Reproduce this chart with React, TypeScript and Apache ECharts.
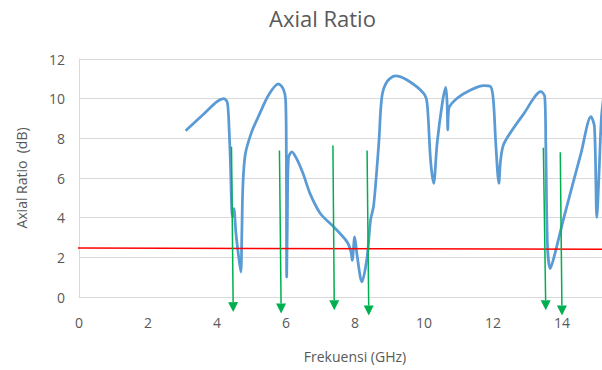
import { useEffect, useRef } from "react";
import * as echarts from "echarts";

const freqGHz = [
  3.09, 3.6, 4.0, 4.2, 4.3, 4.35, 4.39, 4.43, 4.46, 4.49, 4.55, 4.63, 4.69, 4.72, 4.75, 4.82,
  5.0, 5.2, 5.5, 5.78, 5.93, 5.99, 6.01, 6.015, 6.02, 6.04, 6.07, 6.17, 6.3, 6.5, 6.7, 7.0,
  7.38, 7.77, 7.88, 7.92, 7.99, 8.06, 8.2, 8.35, 8.45, 8.54, 8.69, 8.78, 8.93, 9.17, 9.51,
  9.99, 10.09, 10.19, 10.28, 10.38, 10.53, 10.63, 10.67, 10.69, 10.72, 10.96, 11.35, 11.74,
  11.93, 12.01, 12.08, 12.17, 12.22, 12.32, 12.9, 13.39, 13.5, 13.53, 13.58, 13.66, 13.77,
  14.06, 14.55, 14.84, 14.94, 15.01, 15.08, 15.14, 15.2,
];
const axialRatio = [
  8.38, 9.2, 9.85, 10.0, 9.8, 8.5, 6.7, 4.3, 4.05, 4.45, 3.2, 2.0, 1.26, 3.2, 5.6, 7.2,
  8.3, 9.1, 10.2, 10.75, 10.45, 9.9, 7.0, 3.0, 1.0, 4.0, 7.0, 7.32, 7.0, 6.2, 5.2, 4.2,
  3.54, 2.78, 2.3, 1.85, 3.03, 2.1, 0.76, 2.0, 3.87, 4.6, 7.75, 10.1, 10.86, 11.15, 10.94,
  10.27, 9.77, 6.9, 5.73, 7.75, 9.77, 10.57, 9.77, 8.42, 9.5, 10.02, 10.44, 10.66,
  10.61, 9.93, 7.75, 5.73, 6.9, 7.75, 9.26, 10.35, 10.1, 7.75, 2.53, 1.43, 2.02,
  4.04, 7.24, 9.09, 8.59, 4.0, 6.5, 9.0, 10.0,
];

const limitFreq = [-0.22, 15.3];
const limitAR = [2.47, 2.41];

const arrowFreqTop = [4.42, 5.81, 7.36, 8.35, 13.46, 13.95];
const arrowTopAR = [7.58, 7.39, 7.64, 7.39, 7.52, 7.3];
const arrowFreqTip = [4.47, 5.86, 7.4, 8.4, 13.53, 14.0];
const arrowTipAR = [-0.76, -0.83, -0.67, -0.93, -0.67, -0.93];

const FONT = "Open Sans";
const TEXT = "#595959";
const GRID = "#D9D9D9";

export default function App() {
  const ref = useRef<HTMLDivElement>(null);
  useEffect(() => {
    const chart = echarts.init(ref.current!, null, { renderer: "svg" });
    chart.setOption({
      animation: false,
      backgroundColor: "#ffffff",
      title: {
        text: "Axial Ratio",
        left: 264,
        top: 2,
        textStyle: { fontFamily: FONT, fontSize: 22, fontWeight: "normal", color: TEXT },
      },
      grid: { left: 79, top: 59, bottom: 73, right: 0 },
      xAxis: {
        type: "value",
        min: 0,
        max: 16,
        interval: 2,
        name: "Frekuensi (GHz)",
        nameLocation: "middle",
        nameGap: 52,
        nameTextStyle: { fontFamily: FONT, fontSize: 14, color: TEXT },
        axisLine: { show: true, lineStyle: { color: GRID } },
        axisTick: { show: false },
        splitLine: { show: false },
        axisLabel: { fontFamily: FONT, fontSize: 14, color: TEXT, margin: 18, showMaxLabel: false },
      },
      yAxis: {
        type: "value",
        min: 0,
        max: 12,
        interval: 2,
        name: "Axial Ratio  (dB)",
        nameLocation: "middle",
        nameGap: 51,
        nameTextStyle: { fontFamily: FONT, fontSize: 14, color: TEXT },
        axisLine: { show: true, lineStyle: { color: GRID } },
        axisTick: { show: false },
        splitLine: { show: true, lineStyle: { color: GRID } },
        axisLabel: { fontFamily: FONT, fontSize: 14, color: TEXT, margin: 14 },
      },
      series: [
        {
          type: "line",
          data: freqGHz.map((x, i) => [x, axialRatio[i]]),
          smooth: 0.3,
          symbol: "none",
          lineStyle: { color: "#5B9BD5", width: 2.75 },
          z: 2,
        },
        {
          type: "line",
          data: limitFreq.map((x, i) => [x, limitAR[i]]),
          symbol: "none",
          clip: false,
          lineStyle: { color: "#FF0000", width: 1.5 },
          z: 3,
        },
        {
          type: "custom",
          clip: false,
          z: 4,
          encode: { x: [0, 2], y: [1, 3] },
          data: arrowFreqTop.map((x, i) => [x, arrowTopAR[i], arrowFreqTip[i], arrowTipAR[i]]),
          renderItem: (_params: any, api: any) => {
            const p1 = api.coord([api.value(0), api.value(1)]);
            const p2 = api.coord([api.value(2), api.value(3)]);
            const dx = p2[0] - p1[0];
            const dy = p2[1] - p1[1];
            const len = Math.hypot(dx, dy) || 1;
            const ux = dx / len;
            const uy = dy / len;
            const head = 10;
            const half = 5;
            const bx = p2[0] - ux * head;
            const by = p2[1] - uy * head;
            return {
              type: "group",
              children: [
                {
                  type: "line",
                  shape: { x1: p1[0], y1: p1[1], x2: bx, y2: by },
                  style: { stroke: "#00B050", lineWidth: 1.5 },
                },
                {
                  type: "polygon",
                  shape: {
                    points: [
                      [p2[0], p2[1]],
                      [bx - uy * half, by + ux * half],
                      [bx + uy * half, by - ux * half],
                    ],
                  },
                  style: { fill: "#00B050" },
                },
              ],
            };
          },
        },
      ],
    });
    return () => chart.dispose();
  }, []);
  return (
    <div
      style={{
        position: "fixed",
        left: 0,
        top: 0,
        width: 602,
        height: 370,
        overflow: "hidden",
        background: "#fff",
      }}
    >
      <div ref={ref} style={{ width: 631, height: 370 }} />
    </div>
  );
}
